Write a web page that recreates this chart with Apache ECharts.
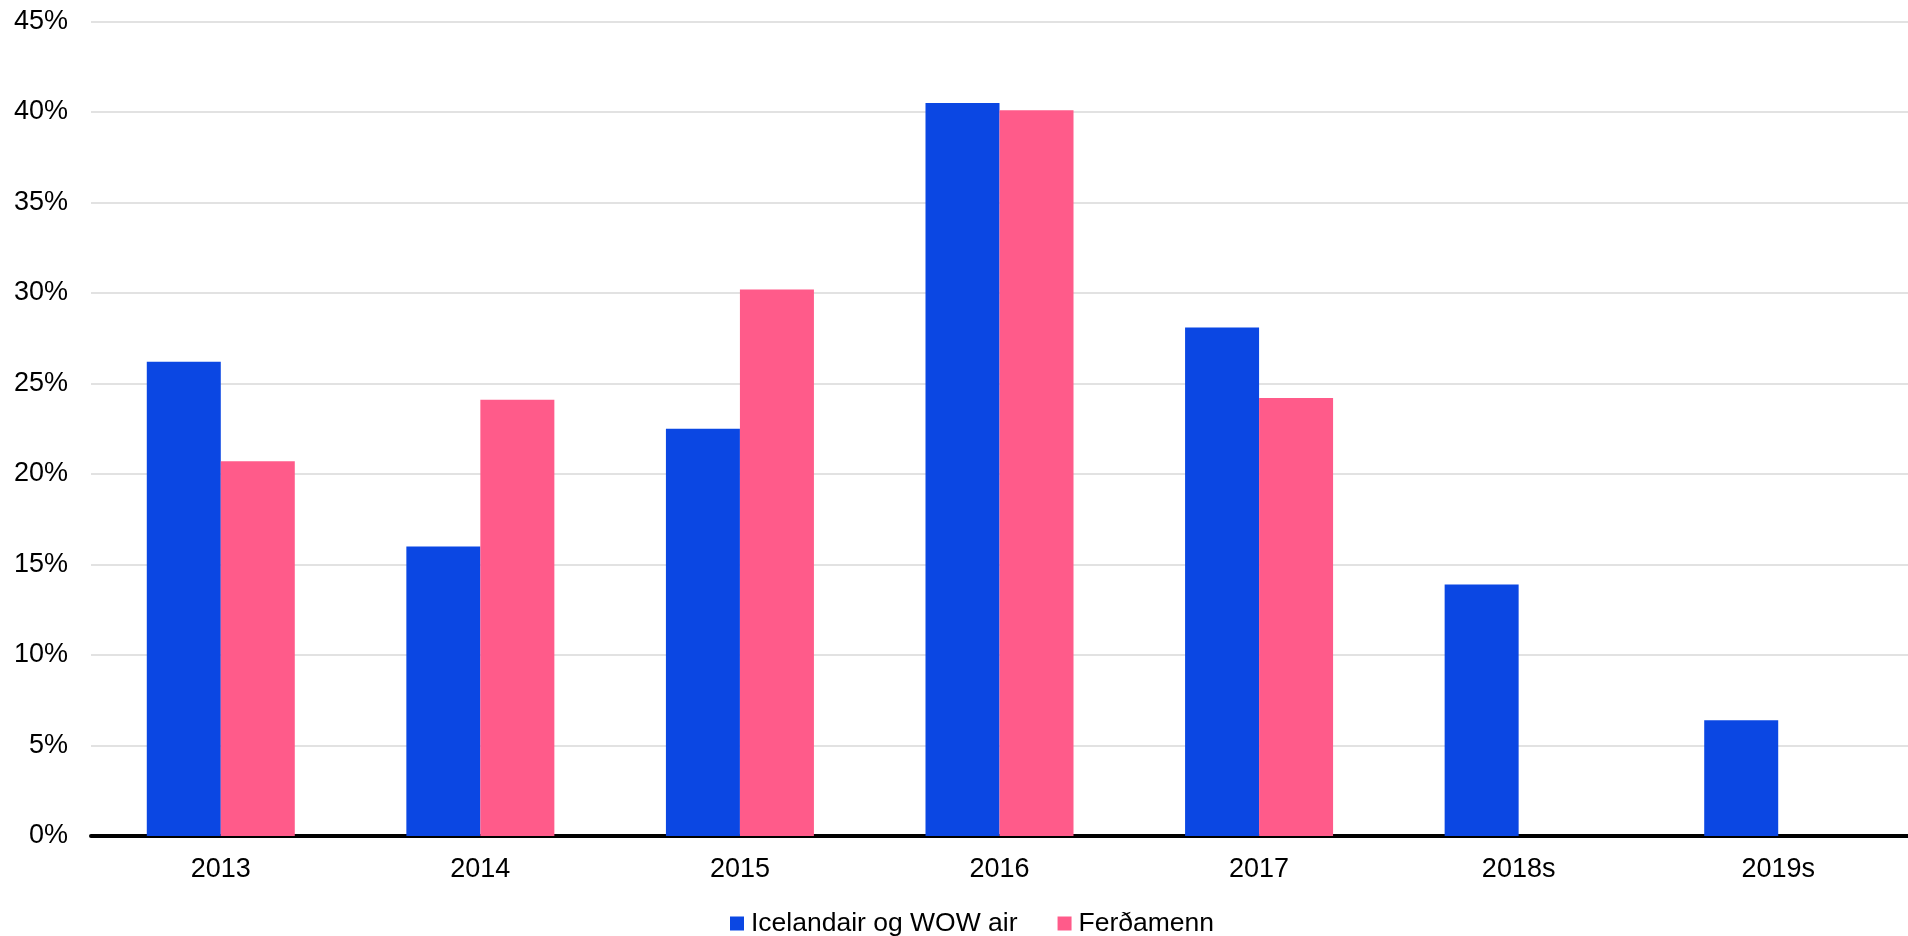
<!DOCTYPE html>
<html>
<head>
<meta charset="utf-8">
<script src="https://cdn.jsdelivr.net/npm/echarts@6/dist/echarts.min.js"></script>
<style>html,body{margin:0;padding:0;background:#fff}#c{width:1908px;height:936px}</style>
</head>
<body>
<div id="c"></div>
<script>
const categories = ['2013', '2014', '2015', '2016', '2017', '2018s', '2019s'];
const icelandairWow = [26.2, 16.0, 22.5, 40.5, 28.1, 13.9, 6.4];
const ferdamenn = [20.7, 24.1, 30.2, 40.1, 24.2, null, null];
const seriesNames = ['Icelandair og WOW air', 'Ferðamenn'];

const chart = echarts.init(document.getElementById('c'));
const font = 'Liberation Sans, Arial, sans-serif';
chart.setOption({
  animation: false,
  textStyle: { fontFamily: font },
  grid: { left: 91, right: 0, top: 21.5, bottom: 100, containLabel: false },
  legend: {
    top: 910,
    left: 730,
    padding: 0,
    itemWidth: 14,
    itemHeight: 14,
    itemGap: 40,
    icon: 'rect',
    textStyle: { fontSize: 26.5, color: '#000', fontFamily: font, padding: [0, 0, 0, 2] },
    data: seriesNames
  },
  xAxis: {
    type: 'category',
    data: categories,
    axisLine: { lineStyle: { color: '#000', width: 4 } },
    axisTick: { show: false },
    axisLabel: { fontSize: 27, color: '#000', margin: 20, fontFamily: font }
  },
  yAxis: {
    type: 'value',
    min: 0,
    max: 45,
    interval: 5,
    axisLine: { show: false },
    axisTick: { show: false },
    axisLabel: { fontSize: 27, color: '#000', margin: 23, formatter: '{value}%', fontFamily: font },
    splitLine: { lineStyle: { color: '#d9d9d9', width: 1.5 } }
  },
  series: [
    {
      name: seriesNames[0], type: 'bar', data: icelandairWow,
      barWidth: 74, barGap: '0%',
      itemStyle: { color: '#0b47e3' }
    },
    {
      name: seriesNames[1], type: 'bar', data: ferdamenn,
      barWidth: 74, barGap: '0%',
      itemStyle: { color: '#ff5b8a' }
    }
  ]
});
</script>
</body>
</html>
